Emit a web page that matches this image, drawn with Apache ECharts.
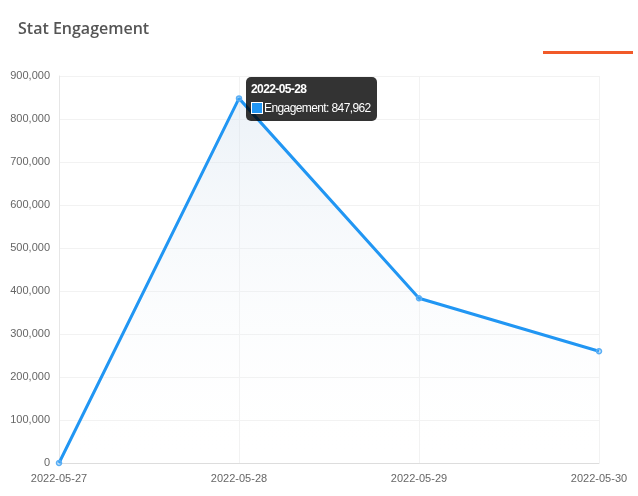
<!DOCTYPE html>
<html>
<head>
<meta charset="utf-8">
<script src="https://cdn.jsdelivr.net/npm/echarts@6/dist/echarts.min.js"></script>
<style>
html,body{margin:0;padding:0;background:#fff;}
#c{width:638px;height:496px;}
</style>
</head>
<body>
<div id="c"></div>
<script>
const categories = ['2022-05-27', '2022-05-28', '2022-05-29', '2022-05-30'];
const engagement = [0, 847962, 383000, 260000];
const seriesName = 'Engagement';
const tooltipIndex = 1;

const chart = echarts.init(document.getElementById('c'), null, {renderer: 'canvas'});
const fmt = v => v.toLocaleString('en-US');

chart.setOption({
  animation: false,
  backgroundColor: '#fff',
  title: {
    text: 'Stat Engagement',
    left: 13, top: 16,
    textStyle: {fontFamily: 'Open Sans', fontSize: 16, fontWeight: 600, color: '#555'}
  },
  graphic: [{
    type: 'rect', right: 5, top: 51,
    shape: {width: 90, height: 3},
    style: {fill: '#f15a29'}
  }],
  grid: {left: 59, right: 39, top: 76, bottom: 33, containLabel: false},
  tooltip: {
    trigger: 'item',
    alwaysShowContent: true,
    transitionDuration: 0,
    showDelay: 0,
    backgroundColor: 'rgba(0,0,0,0.8)',
    borderWidth: 0,
    borderRadius: 5,
    padding: [5, 6, 6, 5],
    extraCssText: 'box-shadow:none;',
    textStyle: {color: '#fff', fontFamily: 'Liberation Sans', fontSize: 12},
    position: function (point) { return [point[0] + 7, point[1] - 21]; },
    formatter: function (p) {
      return '<div style="font-weight:bold;letter-spacing:-0.6px;line-height:14px;margin-bottom:5px;">' + p.name + '</div>' +
        '<div style="letter-spacing:-0.6px;line-height:14px;"><span style="display:inline-block;width:10px;height:10px;background:#2196f3;border:1px solid #fff;vertical-align:-2px;margin-right:1px;"></span>' +
        p.seriesName + ': ' + fmt(p.value) + '</div>';
    }
  },
  xAxis: {
    type: 'category',
    data: categories,
    boundaryGap: false,
    axisLine: {lineStyle: {color: '#ddd'}},
    axisTick: {show: false},
    axisLabel: {color: '#666', fontFamily: 'Liberation Sans', fontSize: 11, margin: 10, interval: 0},
    splitLine: {show: true, lineStyle: {color: '#f2f2f2'}}
  },
  yAxis: {
    type: 'value',
    min: 0, max: 900000, interval: 100000,
    axisLine: {show: true, lineStyle: {color: '#e6e6e6'}},
    axisTick: {show: false},
    axisLabel: {color: '#666', fontFamily: 'Liberation Sans', fontSize: 11, margin: 9, formatter: v => fmt(v)},
    splitLine: {lineStyle: {color: '#f2f2f2'}}
  },
  series: [{
    name: seriesName,
    type: 'line',
    data: engagement,
    symbol: 'circle',
    symbolSize: 5,
    showAllSymbol: true,
    itemStyle: {color: 'rgba(100,181,246,0.3)', borderColor: '#5aaef5', borderWidth: 1.5},
    lineStyle: {color: '#2196f3', width: 3},
    areaStyle: {
      color: new echarts.graphic.LinearGradient(0, 0, 0, 1, [
        {offset: 0, color: 'rgba(210,224,238,0.6)'},
        {offset: 0.85, color: 'rgba(240,244,248,0.05)'},
        {offset: 1, color: 'rgba(255,255,255,0)'}
      ])
    },
    emphasis: {disabled: true}
  }]
});

chart.dispatchAction({type: 'showTip', seriesIndex: 0, dataIndex: tooltipIndex});
</script>
</body>
</html>
